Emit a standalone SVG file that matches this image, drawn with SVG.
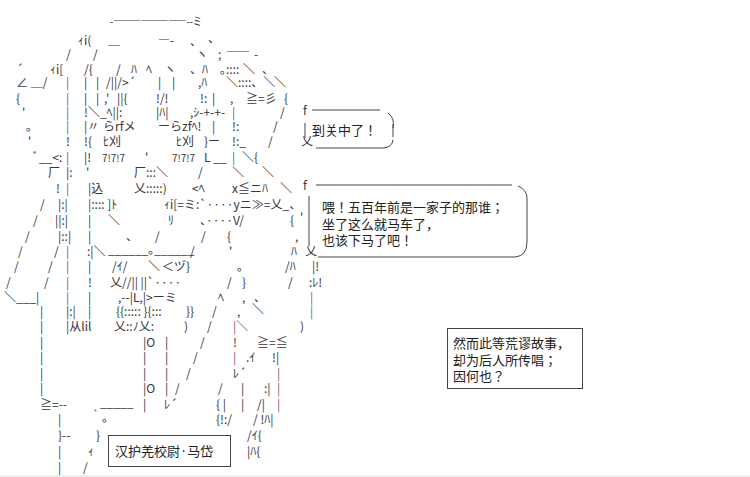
<svg xmlns="http://www.w3.org/2000/svg" width="750" height="477" viewBox="0 0 750 477">
<style>
text{font-family:"Noto Sans CJK JP","DejaVu Sans",sans-serif;font-size:12px;fill:#3a343a}
.t{font-size:13px;fill:#222}
.p{fill:#7a5a80}
.b{stroke:#444;stroke-width:1;fill:none}
</style>
<rect width="750" height="477" fill="#fff"/>
<g id="art">
<text x="110" y="26" textLength="92" lengthAdjust="spacingAndGlyphs">-――――――――--ミ</text>
<text x="78" y="45">ｨi(</text><text x="108" y="45">＿</text><text x="158" y="45">―-</text><text x="190" y="46">、</text><text x="208" y="43">、</text>
<text x="66" y="59">/</text><text x="93" y="59">/</text><text x="196" y="59">ヽ</text><text x="218" y="59">;</text><text x="226" y="57">――</text><text x="254" y="59">-</text>
<text x="50" y="74">ｨi[</text><text x="84" y="74">/{</text><text x="116" y="74">/</text><text x="131" y="74">ﾊ</text><text x="146" y="74">ﾍ</text><text x="164" y="74">ヽ</text><text x="190" y="74">、ﾊ</text><text x="220" y="74">｡::::</text><text x="243" y="74">＼</text><text x="262" y="74">、</text>
<text x="16" y="74">´</text>
<text x="16" y="87">∠ ＿/</text><text x="66" y="87" class="p">|</text><text x="84" y="87">|</text><text x="96" y="87">|</text><text x="106" y="87">/||/&gt;´</text><text x="158" y="87">|</text><text x="172" y="87">|</text><text x="198" y="87">,ﾊ</text><text x="226" y="87">＼::::、＼</text><text x="274" y="87">＼</text>
<text x="16" y="103">{</text><text x="66" y="103" class="p">|</text><text x="84" y="103">|</text><text x="96" y="103">|</text><text x="104" y="103">,'</text><text x="117" y="103">||{</text><text x="156" y="103">!/!</text><text x="200" y="103">!:</text><text x="212" y="103">|</text><text x="230" y="103">,</text><text x="246" y="103">≧=彡</text><text x="284" y="103">{</text>
<text x="22" y="117">'</text><text x="66" y="117" class="p">|</text><text x="84" y="117">!＼_ﾍ||:</text><text x="156" y="117">|ﾊ|</text><text x="190" y="117">,ｼ-+-+-</text><text x="232" y="117" class="p">|</text><text x="280" y="117">/</text>
<text x="26" y="131">｡</text><text x="66" y="131" class="p">|</text><text x="84" y="131">|〃</text><text x="103" y="131">らrfメ</text><text x="158" y="131">ーらzfﾍ!</text><text x="212" y="131">|</text><text x="232" y="131">!:</text><text x="273" y="131">/</text>
<text x="28" y="146">'</text><text x="66" y="146">!</text><text x="84" y="146">!{</text><text x="103" y="146">ﾋ刈</text><text x="176" y="146">ﾋ刈</text><text x="204" y="146">}ー</text><text x="232" y="146">!:_</text><text x="268" y="146">/</text>
<text x="33" y="162">ﾞ__&lt;:</text><text x="66" y="162" class="p">|</text><text x="84" y="162">|!</text><text x="102" y="162" style="font-size:10px">7!7!7</text><text x="145" y="162">'</text><text x="172" y="162" style="font-size:10px">7!7!7</text><text x="204" y="162">L __</text><text x="232" y="162" class="p">|</text><text x="242" y="162">＼{</text>
<text x="48" y="177">厂</text><text x="66" y="177">|:</text><text x="86" y="177">'</text><text x="134" y="177">厂:::＼</text><text x="198" y="177">/</text><text x="232" y="177">＼</text><text x="262" y="177">＼</text>
<text x="56" y="193">!</text><text x="66" y="193" class="p">|</text><text x="88" y="193">|込</text><text x="134" y="193">乂:::::)</text><text x="192" y="193">&lt;ﾍ</text><text x="232" y="193">x≦ニﾊ</text><text x="280" y="193">＼</text><text x="303" y="190">f</text>
<text x="40" y="209">/</text><text x="58" y="209">|:|</text><text x="88" y="209">|::::  ]ﾄ</text><text x="164" y="209">ｨi[=ミ:`····yニ≫=乂_、</text>
<text x="33" y="225">/</text><text x="55" y="225">||:|</text><text x="88" y="225">|</text><text x="108" y="225">＼</text><text x="168" y="225">ﾘ</text><text x="200" y="225">、····V/</text><text x="290" y="225">{</text><text x="300" y="222">'</text>
<text x="25" y="241">/</text><text x="58" y="241">|::|</text><text x="88" y="241">|</text><text x="126" y="241">、</text><text x="155" y="241">/</text><text x="201" y="241">/</text><text x="227" y="241">{</text><text x="295" y="241">,</text>
<text x="18" y="256">/</text><text x="54" y="256">/</text><text x="66" y="256" class="p">|</text><text x="87" y="256">:|＼</text><text x="108" y="254">______｡______</text><text x="190" y="256">/</text><text x="229" y="256">'</text><text x="291" y="256">ﾊ</text><text x="305" y="256">乂</text>
<text x="14" y="271">/</text><text x="48" y="271">/</text><text x="66" y="271" class="p">|</text><text x="88" y="271">|</text><text x="112" y="271">/ｲ/</text><text x="148" y="271">＼</text><text x="162" y="271">＜ヅ}</text><text x="237" y="271">｡</text><text x="285" y="271">/ﾊ</text><text x="312" y="271">|!</text>
<text x="6" y="287">/</text><text x="44" y="287">/</text><text x="66" y="287" class="p">|</text><text x="88" y="287">!</text><text x="110" y="287">乂//||  ||`····</text><text x="227" y="287">/</text><text x="242" y="287">}</text><text x="288" y="287">/</text><text x="309" y="287">:ﾚ!</text>
<text x="4" y="302">＼___|</text><text x="66" y="302" class="p">|</text><text x="88" y="302">|</text><text x="118" y="302">,--|L,|&gt;ーミ</text><text x="218" y="302">ﾍ</text><text x="242" y="302">,</text><text x="254" y="302">、</text><text x="310" y="302" class="p">|</text>
<text x="40" y="316">|</text><text x="66" y="316">|:|</text><text x="88" y="316">|</text><text x="116" y="316">{{:::::  }{:::</text><text x="186" y="316">}}</text><text x="212" y="316">/</text><text x="237" y="316">,</text><text x="252" y="314">＼</text><text x="310" y="316" class="p">|</text>
<text x="40" y="331">|</text><text x="66" y="331">|从lil</text><text x="114" y="331">乂::ﾉ乂:</text><text x="184" y="331">)</text><text x="207" y="331">/</text><text x="233" y="331" class="p">|＼</text><text x="300" y="331">)</text>
<text x="40" y="347">|</text><text x="143" y="347">|O</text><text x="165" y="347">|</text><text x="200" y="347">/</text><text x="233" y="347">!</text><text x="257" y="347">≧=≦</text>
<text x="40" y="362">|</text><text x="143" y="362">|</text><text x="165" y="362">|</text><text x="193" y="362">/</text><text x="233" y="362" class="p">|</text><text x="246" y="362">.ｲ</text><text x="272" y="362">!|</text>
<text x="40" y="378">|</text><text x="143" y="378">|</text><text x="165" y="378">|</text><text x="186" y="378">/</text><text x="233" y="378">ﾚ´</text><text x="277" y="378" class="p">|</text>
<text x="40" y="393">|</text><text x="143" y="393">|O</text><text x="165" y="393">|</text><text x="175" y="393">/</text><text x="218" y="393">/</text><text x="241" y="393">|</text><text x="264" y="393">:|</text><text x="277" y="393" class="p">|</text>
<text x="40" y="409">≧=--</text><text x="100" y="407">_____</text><text x="143" y="409">|</text><text x="164" y="409">ﾚ´</text><text x="216" y="409">{ |</text><text x="241" y="409">|</text><text x="257" y="409">/|</text><text x="277" y="409" class="p">|</text>
<text x="58" y="424">|</text><text x="90" y="422">｀｡</text><text x="216" y="424">{!:/</text><text x="253" y="424">/ !ﾊ|</text>
<text x="58" y="440">}--</text><text x="96" y="440">}</text><text x="247" y="440">/ｲ{</text>
<text x="58" y="456">|</text><text x="88" y="456">ｨ</text><text x="247" y="456">|ﾊ{</text>
<text x="58" y="472">|</text><text x="83" y="472">/</text>
</g>
<g id="bubble1">
<path class="b" d="M312 110 H380 M388 113 Q395 118 393 128 M393 124 V137 M393 140 Q392 147 384 148 H316 M305 123 V138"/>
<text x="303" y="115">f</text><text x="301" y="146">乂</text>
<text class="t" x="312" y="135">到关中了！</text>
</g>
<g id="bubble2">
<path class="b" d="M316 185 H512 M518 186 Q527 190 527 198 V242 Q527 256 515 257 H318 M309 196 V246"/>
<text class="t" x="322" y="212">喂！五百年前是一家子的那谁；</text>
<text class="t" x="322" y="229">坐了这么就马车了，</text>
<text class="t" x="322" y="245">也该下马了吧！</text>
</g>
<g id="box3">
<rect class="b" x="447.5" y="328.5" width="135" height="60"/>
<text class="t" x="453" y="348">然而此等荒谬故事，</text>
<text class="t" x="453" y="365">却为后人所传唱；</text>
<text class="t" x="453" y="381">因何也？</text>
</g>
<g id="box4">
<rect class="b" x="108.5" y="435.5" width="122" height="31"/>
<text class="t" x="115" y="456">汉护羌校尉·马岱</text>
</g>
<line x1="0" y1="476" x2="750" y2="476" stroke="#ddd"/>
</svg>
